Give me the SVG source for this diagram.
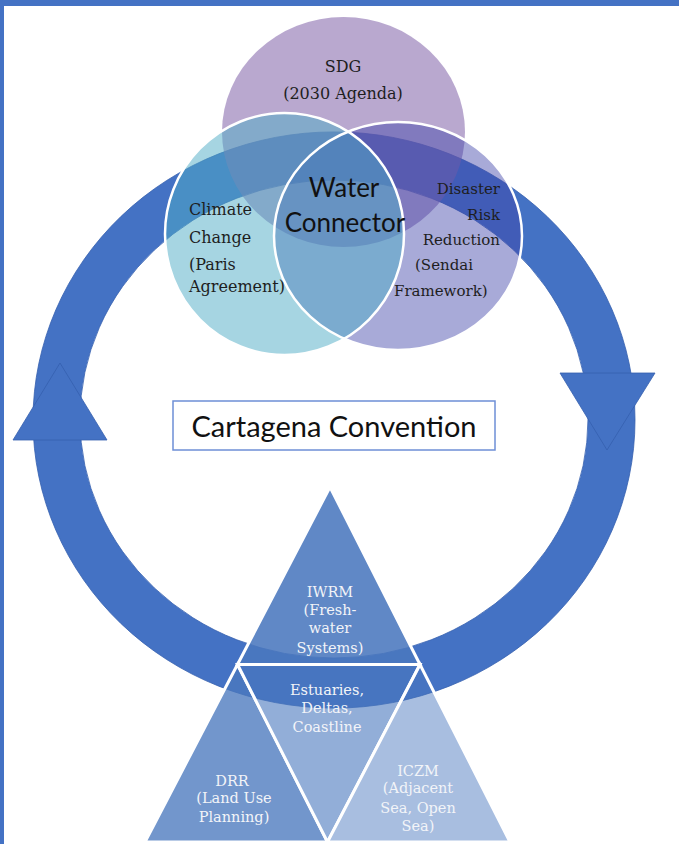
<svg xmlns="http://www.w3.org/2000/svg" width="679" height="844" viewBox="0 0 679 844">
<style>
.frame{fill:#4472C4}
.ring{fill:#4472C4;stroke:#3560AE;stroke-width:0.8;fill-rule:evenodd}
.arrow{fill:#4472C4;stroke:#3560AE;stroke-width:0.8}
.outline{fill:none;stroke:#FFFFFF;stroke-width:2.5}
.ct{font-family:"DejaVu Serif","Liberation Serif",serif;fill:#1E1E1E}
.wc{font-family:Lato,"Liberation Sans",sans-serif;font-size:26px;fill:#111111;text-anchor:middle}
.tri{fill:#4A78BE;stroke:#FFFFFF;stroke-width:3;stroke-linejoin:miter}
.tt{font-family:"DejaVu Serif","Liberation Serif",serif;font-size:14.5px;fill:#F2F4F8;text-anchor:middle}
</style>
<rect width="679" height="844" fill="#FFFFFF"/>
<rect class="frame" x="0" y="0" width="679" height="6"/>
<rect class="frame" x="0" y="0" width="4" height="844"/>
<g id="connectors">
<path class="ring" d="M33,420 A301,288 0 1,0 635,420 A301,288 0 1,0 33,420 Z M80,419 A254,239 0 1,1 588,419 A254,239 0 1,1 80,419 Z"/>
<polygon class="arrow" points="60,363 13,440 107,440"/>
<polygon class="arrow" points="560,373 655,373 607,450"/>
</g>
<g id="venn">
<g id="sdg"><ellipse cx="343.5" cy="132" rx="121.5" ry="115" fill="#8A6EAF" fill-opacity="0.6"/></g>
<g id="drr-circle"><ellipse cx="398" cy="236" rx="124" ry="114" fill="#3E43A9" fill-opacity="0.45"/></g>
<g id="climate"><ellipse cx="284.5" cy="234" rx="119.5" ry="121" fill="#4DABC5" fill-opacity="0.5"/></g>
<ellipse class="outline" cx="398" cy="236" rx="124" ry="114"/>
<ellipse class="outline" cx="284.5" cy="234" rx="119.5" ry="121"/>
<text class="ct" font-size="16" text-anchor="middle"><tspan x="343" y="72">SDG</tspan><tspan x="343" y="99">(2030 Agenda)</tspan></text>
<text class="ct" font-size="16"><tspan x="189" y="215">Climate</tspan><tspan x="189" y="243">Change</tspan><tspan x="189" y="270">(Paris</tspan><tspan x="189" y="292">Agreement)</tspan></text>
<text class="ct" font-size="15" text-anchor="end"><tspan x="500" y="194">Disaster</tspan><tspan x="500" y="220">Risk</tspan><tspan x="500" y="245">Reduction</tspan></text>
<text class="ct" font-size="15"><tspan x="415" y="270">(Sendai</tspan><tspan x="394" y="296">Framework)</tspan></text>
<g id="water-connector"><text class="wc"><tspan x="344" y="197">Water</tspan><tspan x="345" y="232">Connector</tspan></text></g>
</g>
<g id="cartagena">
<rect x="173" y="401" width="322" height="49" fill="#FFFFFF" stroke="#6E8FD6" stroke-width="1.5"/>
<text x="334" y="437" font-family="Lato,'Liberation Sans',sans-serif" font-size="29" fill="#111111" text-anchor="middle">Cartagena Convention</text>
</g>
<g id="triangles">
<g id="iwrm"><polygon class="tri" fill-opacity="0.88" points="330,487 237.5,664.5 420,664.5"/>
<text class="tt"><tspan x="330" y="597">IWRM</tspan><tspan x="330" y="615">(Fresh-</tspan><tspan x="330" y="633">water</tspan><tspan x="330" y="653">Systems)</tspan></text></g>
<g id="drr"><polygon class="tri" fill-opacity="0.78" points="237.5,664.5 145,842 327.5,842"/>
<text class="tt"><tspan x="232" y="786">DRR</tspan><tspan x="234" y="803">(Land Use</tspan><tspan x="234" y="822">Planning)</tspan></text></g>
<g id="estuaries"><polygon class="tri" fill-opacity="0.6" points="237.5,664.5 420,664.5 327.5,842"/>
<text class="tt"><tspan x="327" y="695">Estuaries,</tspan><tspan x="327" y="713">Deltas,</tspan><tspan x="327" y="732">Coastline</tspan></text></g>
<g id="iczm"><polygon class="tri" fill-opacity="0.48" points="420,664.5 327.5,842 510,842"/>
<text class="tt"><tspan x="418" y="776">ICZM</tspan><tspan x="418" y="793">(Adjacent</tspan><tspan x="418" y="813">Sea, Open</tspan><tspan x="418" y="831">Sea)</tspan></text></g>
</g>
</svg>
